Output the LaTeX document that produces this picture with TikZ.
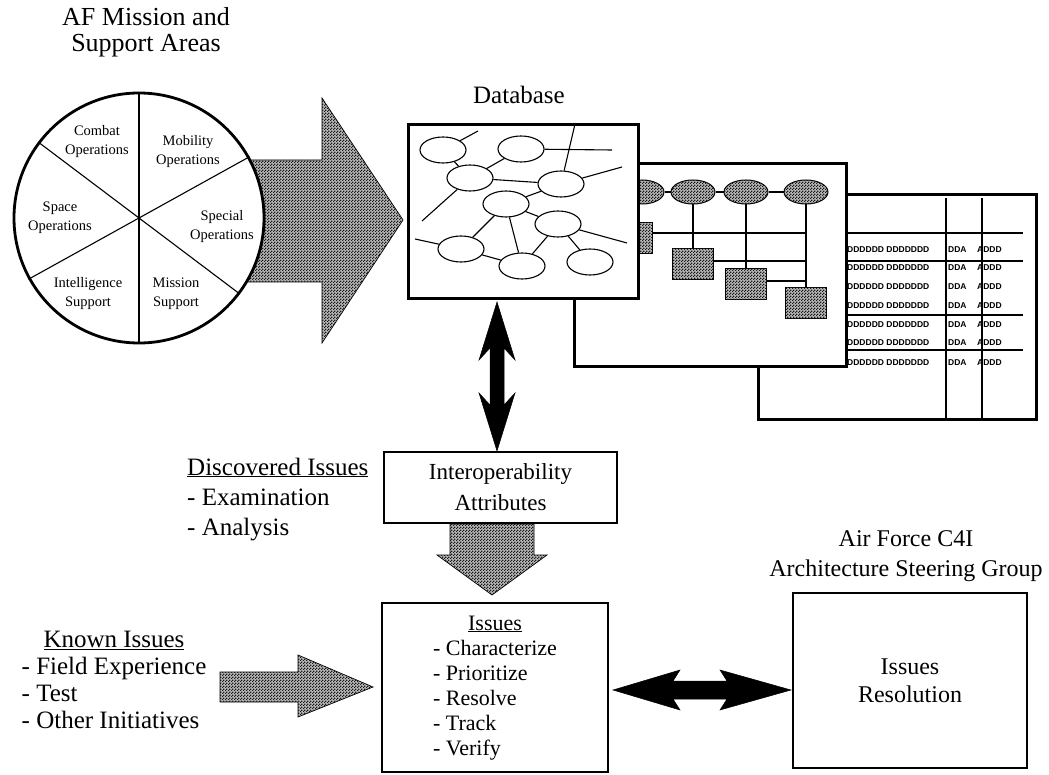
\documentclass[tikz,border=0pt]{standalone}
\usepackage{fontspec}
\setmainfont{Liberation Serif}
\setsansfont{Liberation Sans}
\usetikzlibrary{patterns,shapes.geometric}
\pgfdeclarepatternformonly{dither}{\pgfpointorigin}{\pgfpoint{3pt}{3pt}}{\pgfpoint{3pt}{3pt}}{%
  \pgfpathrectangle{\pgfpointorigin}{\pgfpoint{1.5pt}{1.5pt}}%
  \pgfpathrectangle{\pgfpoint{1.5pt}{1.5pt}}{\pgfpoint{1.5pt}{1.5pt}}%
  \pgfusepath{fill}}
\newcommand\setfs[2]{\fontsize{#1}{#2}\selectfont}
\tikzset{
  dith/.style={fill=gray!55, postaction={pattern=dither, pattern color=black!90}},
  bigarrow/.style={dith, draw=black, line width=0.7pt},
  heavybox/.style={draw, line width=2.6pt, fill=white, inner sep=0pt},
  fineline/.style={line width=1.1pt},
  dbell/.style={ellipse, draw, line width=1.1pt, minimum width=46pt, minimum height=26pt, inner sep=0pt, fill=white},
  hell/.style={ellipse, draw, line width=1pt, minimum width=44pt, minimum height=24pt, inner sep=0pt, dith},
  hsq/.style={draw, line width=1pt, minimum width=41pt, minimum height=31pt, inner sep=0pt, dith},
  seg/.style={align=center, font=\setfs{14.5}{19}},
  tablerow/.style={anchor=west, inner sep=0pt, font=\sffamily\bfseries\setfs{8.5}{9}},
  solidarrow/.style={fill=black, draw=black, line width=0.5pt},
}
\begin{document}
\begin{tikzpicture}[x=1pt,y=-1pt]
\useasboundingbox (0,0) rectangle (1049,775);

% titles
\node[align=center, font=\setfs{26}{26}] (title) at (146,32) {AF Mission and\\Support Areas};
\node[font=\setfs{25}{30}] (dbtitle) at (519,95) {Database};

% big hatched arrow behind the circle
\path[bigarrow] (240,160) -- (322,160) -- (322,98) -- (403,220) -- (322,343) -- (322,282) -- (240,282) -- cycle;

% circle of mission areas
\node[circle, draw, line width=2.8pt, fill=white, minimum size=250pt, inner sep=0pt] (C) at (139,218) {};
\draw[fineline] (C.north) -- (C.south);
\draw[fineline] (C.143) -- (C.-37);
\draw[fineline] (C.29) -- (C.209);
\node[seg] (combat) at (97,142) {Combat\\Operations};
\node[seg] (mobility) at (188,152) {Mobility\\Operations};
\node[seg] (space) at (60,218) {Space\\Operations};
\node[seg] (special) at (222,227) {Special\\Operations};
\node[seg] (intel) at (88,294) {Intelligence\\Support};
\node[seg] (mission) at (176,294) {Mission\\Support};

% third page (table)
\node[heavybox, anchor=north west, minimum width=278pt, minimum height=225pt] (B3) at (757,193) {};
\foreach \yy in {233,261,315,350} \draw[line width=1.1pt] (845,\yy) -- (1023,\yy);
\foreach \xx in {946,982} \draw[line width=1.4pt] (\xx,198) -- (\xx,418);
\foreach \yy [count=\k] in {250,268,287,306,325,343,363} {
  \node[tablerow] (ra\k) at (847,\yy) {DDDDDD DDDDDDD};
  \node[tablerow] (rb\k) at (948,\yy) {DDA};
  \node[tablerow] (rc\k) at (977,\yy) {ADDD};
}

% second page (entity diagram)
\node[heavybox, anchor=north west, minimum width=272pt, minimum height=203pt] (B2) at (573,162) {};
\node[hell] (E0) at (642,192) {};
\node[hell] (E1) at (693,192) {};
\node[hell] (E2) at (746,192) {};
\node[hell] (E3) at (806,192) {};
\draw[fineline] (E0) -- (E1) (E1) -- (E2) (E2) -- (E3);
\node[hsq] (S1) at (632,238.5) {};
\node[hsq] (S2) at (693,264.5) {};
\node[hsq] (S3) at (746,284) {};
\node[hsq] (S4) at (806,303) {};
\draw[fineline] (E1.south) -- (S2.north);
\draw[fineline] (E2.south) -- (S3.north);
\draw[fineline] (E3.south) -- (S4.north);
\coordinate (h1) at (806,233);
\coordinate (h2) at (806,261);
\coordinate (h3) at (806,281);
\draw[fineline] (S1.east |- h1) -- (h1);
\draw[fineline] (S2.east |- h2) -- (h2);
\draw[fineline] (S3.east |- h3) -- (h3);

% database page (front)
\node[heavybox, anchor=north west, minimum width=230pt, minimum height=174pt] (DB) at (407,123) {};
\node[dbell] (D1) at (443,150) {};
\node[dbell] (D2) at (521,149) {};
\node[dbell] (D3) at (470,178) {};
\node[dbell] (D4) at (561,184) {};
\node[dbell] (D5) at (506,204) {};
\node[dbell] (D6) at (558,224) {};
\node[dbell] (D7) at (461,249) {};
\node[dbell] (D8) at (522,266) {};
\node[dbell] (D9) at (590,262) {};
\coordinate (d1a) at (478,131);
\coordinate (d2a) at (612,150);
\coordinate (d4a) at (575,124);
\coordinate (d4b) at (622,167);
\coordinate (d3a) at (422,221);
\coordinate (d7a) at (415,239);
\coordinate (d6a) at (627,243);
\draw[fineline] (D1) -- (d1a);
\draw[fineline] (D1) -- (D3);
\draw[fineline] (D3) -- (D2);
\draw[fineline] (D2) -- (d2a);
\draw[fineline] (D3) -- (D4);
\draw[fineline] (D4) -- (d4a);
\draw[fineline] (D4) -- (d4b);
\draw[fineline] (D3) -- (d3a);
\draw[fineline] (D5) -- (D4);
\draw[fineline] (D5) -- (D6);
\draw[fineline] (D5) -- (D7);
\draw[fineline] (D5) -- (D8);
\draw[fineline] (D7) -- (D8);
\draw[fineline] (D7) -- (d7a);
\draw[fineline] (D6) -- (D8);
\draw[fineline] (D6) -- (D9);
\draw[fineline] (D6) -- (d6a);

% vertical double arrow
\path[solidarrow] (497,302) -- (515,360) -- (504,348) -- (504,405) -- (515,393) -- (497,451) -- (479,393) -- (490,405) -- (490,348) -- (479,360) -- cycle;

% interoperability attributes
\node[heavybox, minimum width=233pt, minimum height=71pt, align=center, font=\setfs{23}{31}] (IA) at (500.5,487.5) {Interoperability\\Attributes};

% hatched down arrow
\path[bigarrow] (450,524) -- (534,524) -- (534,555) -- (547,555) -- (492,595) -- (437,555) -- (450,555) -- cycle;

% issues box
\node[heavybox, minimum width=226pt, minimum height=169pt, font=\setfs{22}{25}] (IS) at (495,687.5)
  {\begin{tabular}{@{}l@{}}\multicolumn{1}{c}{\underline{Issues}}\\- Characterize\\- Prioritize\\- Resolve\\- Track\\- Verify\end{tabular}};

% horizontal double arrow
\path[solidarrow] (613,690) -- (680,670) -- (673,681) -- (727,681) -- (720,670) -- (791,690) -- (720,710) -- (727,699) -- (673,699) -- (680,710) -- cycle;

% issues resolution
\node[heavybox, minimum width=234pt, minimum height=175pt, align=center, font=\setfs{24}{28}] (RES) at (910,680.5) {Issues\\Resolution};
\node[align=center, font=\setfs{24}{30}] (asg) at (906,556) {Air Force C4I\\Architecture Steering Group};

% discovered issues
\node[anchor=base west, align=left, inner sep=0pt, font=\setfs{25}{30}] (disc) at (187,535) {\underline{Discovered Issues}\\- Examination\\- Analysis};

% known issues
\node[font=\setfs{25}{27}] (known) at (114,683)
  {\begin{tabular}{@{}l@{}}\multicolumn{1}{c}{\underline{Known Issues}}\\- Field Experience\\- Test\\- Other Initiatives\end{tabular}};

% hatched right arrow
\path[bigarrow] (220,672) -- (298,672) -- (298,655) -- (373,687) -- (298,717) -- (298,702) -- (220,702) -- cycle;
\end{tikzpicture}
\end{document}
